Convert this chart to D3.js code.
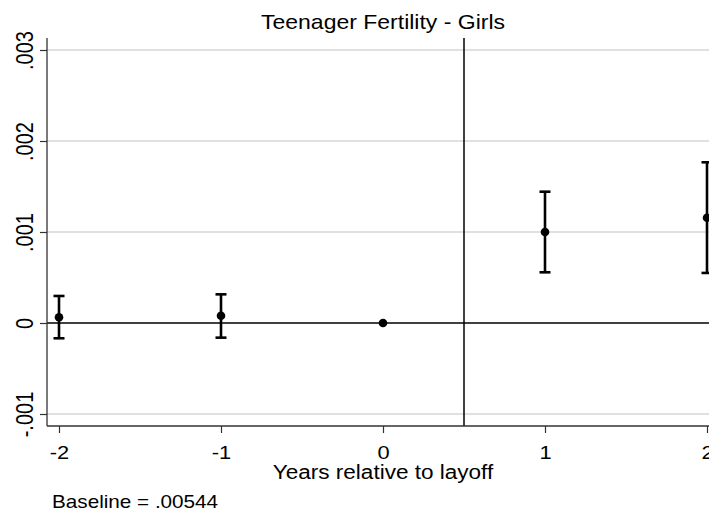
<!DOCTYPE html>
<html><head><meta charset="utf-8">
<script src="https://cdn.jsdelivr.net/npm/d3@7"></script>
<style>body{margin:0;background:#fff}svg{display:block}text{font-family:"Liberation Sans",Arial,sans-serif;fill:#000}</style>
</head><body><div id="c"></div>
<script>
const years = [-2, -1, 0, 1, 2];
const estimates = [0.000063, 0.00008, 0, 0.001, 0.001157];
const ciLow = [-0.000168, -0.000161, null, 0.000557, 0.00055];
const ciHigh = [0.000297, 0.000315, null, 0.001443, 0.001766];
const yTicks = [-0.001, 0, 0.001, 0.002, 0.003];
const yTickLabels = ["-.001", "0", ".001", ".002", ".003"];
const xTicks = [-2, -1, 0, 1, 2];
const xTickLabels = ["-2", "-1", "0", "1", "2"];
const titleText = "Teenager Fertility - Girls";
const xLabel = "Years relative to layoff";
const note = "Baseline = .00544";
const eventLine = 0.5;

(function () {
const W = 709, H = 511, SX = 1.15;
const svg = d3.select("#c").append("svg").attr("width", W).attr("height", H);
const x = d3.scaleLinear().domain([-2, 2]).range([59, 707]);
const y = d3.scaleLinear().domain([-0.001, 0.003]).range([414, 50]);
const pl = 47, pt = 38, pb = 426, pr = W;

svg.append("g").selectAll("line").data(yTicks.filter(d => d !== 0)).join("line")
  .attr("x1", pl).attr("x2", pr).attr("y1", d => y(d)).attr("y2", d => y(d))
  .attr("stroke", "#d6d6d6").attr("stroke-width", 1.5);

svg.append("line").attr("x1", pl).attr("x2", pr).attr("y1", y(0)).attr("y2", y(0))
  .attr("stroke", "#000").attr("stroke-width", 1.5);
svg.append("line").attr("x1", x(eventLine)).attr("x2", x(eventLine)).attr("y1", pt).attr("y2", pb)
  .attr("stroke", "#000").attr("stroke-width", 1.5);

const yAxis = d3.axisLeft(y).tickValues(yTicks).tickSize(7).tickFormat((d, i) => yTickLabels[i]);
const gy = svg.append("g").attr("transform", `translate(${pl},0)`).call(yAxis);
gy.select(".domain").remove();
gy.selectAll(".tick line").attr("stroke", "#333").attr("stroke-width", 1.2);
gy.selectAll(".tick text").remove();
gy.selectAll(".tick").append("text")
  .attr("transform", `translate(-14,0) scale(${SX},1) rotate(-90)`)
  .attr("text-anchor", "middle").attr("font-size", 20)
  .text((d, i) => yTickLabels[i]);
svg.append("line").attr("x1", pl).attr("x2", pl).attr("y1", pt).attr("y2", pb)
  .attr("stroke", "#333").attr("stroke-width", 1.3);

const xAxis = d3.axisBottom(x).tickValues(xTicks).tickSize(7).tickFormat((d, i) => xTickLabels[i]);
const gx = svg.append("g").attr("transform", `translate(0,${pb})`).call(xAxis);
gx.select(".domain").remove();
gx.selectAll(".tick line").attr("stroke", "#333").attr("stroke-width", 1.2);
gx.selectAll(".tick text").remove();
gx.selectAll(".tick").append("text")
  .attr("transform", `translate(0,33) scale(${SX},1)`)
  .attr("text-anchor", "middle").attr("font-size", 19)
  .text((d, i) => xTickLabels[i]);
svg.append("line").attr("x1", pl).attr("x2", pr).attr("y1", pb).attr("y2", pb)
  .attr("stroke", "#333").attr("stroke-width", 1.3);

const data = years.map((yr, i) => ({yr, est: estimates[i], lo: ciLow[i], hi: ciHigh[i]}));
const eb = data.filter(d => d.lo !== null);
const g = svg.append("g").attr("stroke", "#000").attr("stroke-width", 2.6);
g.selectAll(".v").data(eb).join("line").attr("x1", d => x(d.yr)).attr("x2", d => x(d.yr))
  .attr("y1", d => y(d.lo)).attr("y2", d => y(d.hi));
g.selectAll(".t").data(eb).join("line").attr("x1", d => x(d.yr) - 5.5).attr("x2", d => x(d.yr) + 5.5)
  .attr("y1", d => y(d.hi)).attr("y2", d => y(d.hi));
g.selectAll(".b").data(eb).join("line").attr("x1", d => x(d.yr) - 5.5).attr("x2", d => x(d.yr) + 5.5)
  .attr("y1", d => y(d.lo)).attr("y2", d => y(d.lo));
svg.append("g").selectAll("circle").data(data).join("circle")
  .attr("cx", d => x(d.yr)).attr("cy", d => y(d.est)).attr("r", 4.3).attr("fill", "#000");

svg.append("text").attr("transform", `translate(383,29) scale(${SX},1)`).attr("text-anchor", "middle")
  .attr("font-size", 20).text(titleText);
svg.append("text").attr("transform", `translate(383,479) scale(${SX},1)`).attr("text-anchor", "middle")
  .attr("font-size", 19.6).text(xLabel);
svg.append("text").attr("transform", `translate(52,508) scale(${SX},1)`).attr("text-anchor", "start")
  .attr("font-size", 18).text(note);
})();
</script></body></html>
